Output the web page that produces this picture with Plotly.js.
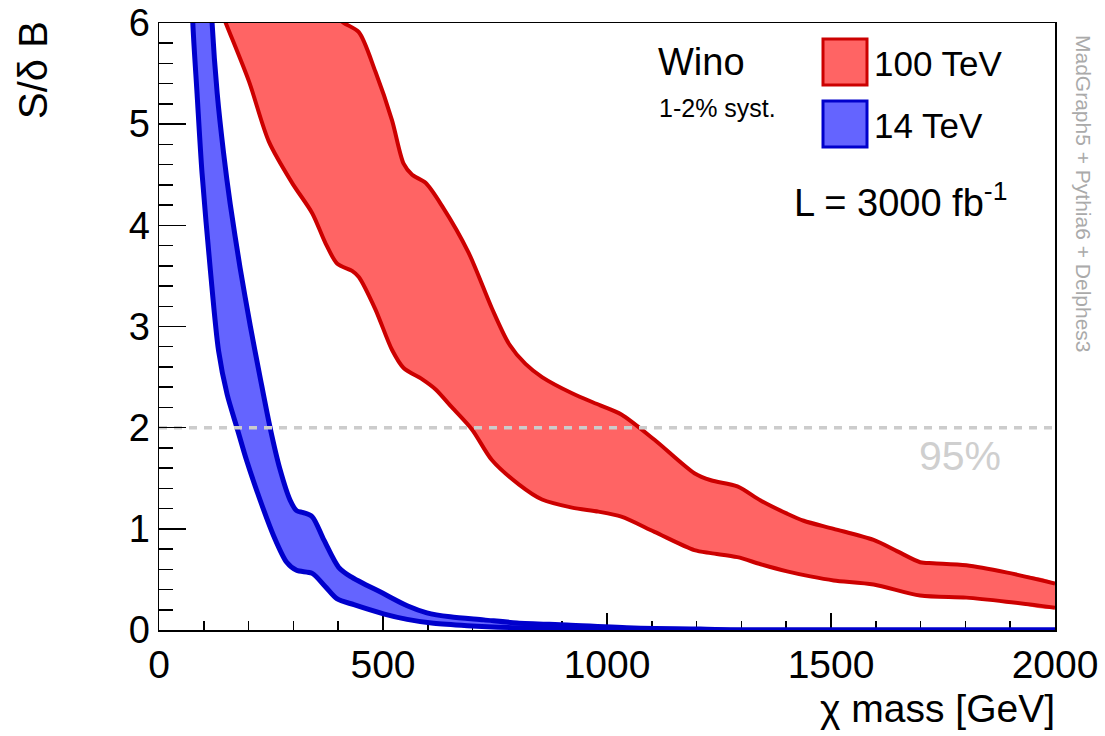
<!DOCTYPE html>
<html>
<head>
<meta charset="utf-8">
<script src="https://cdn.plot.ly/plotly-3.0.1.min.js"></script>
<style>html,body{margin:0;padding:0;background:#fff;}#chart{width:1105px;height:736px;}</style>
</head>
<body>
<div id="chart"></div>
<script>
// ---- Data ----
// 100 TeV band
const red100UpperX = [390, 413, 446, 483, 520, 546, 565, 595, 632, 691, 743, 781, 818, 855, 922, 985, 1032, 1106, 1195, 1232, 1291, 1343, 1402, 1439, 1506, 1595, 1647, 1699, 1728, 1802, 1891, 2000];
const red100UpperY = [6.08, 6.0, 5.91, 5.52, 5.04, 4.61, 4.50, 4.42, 4.19, 3.73, 3.18, 2.83, 2.63, 2.50, 2.34, 2.22, 2.13, 1.88, 1.55, 1.48, 1.42, 1.28, 1.15, 1.08, 1.00, 0.89, 0.78, 0.67, 0.66, 0.64, 0.57, 0.46];
const red100LowerX = [104, 149, 201, 245, 297, 342, 372, 398, 431, 446, 483, 520, 546, 587, 617, 654, 699, 743, 803, 855, 922, 981, 1032, 1106, 1195, 1232, 1291, 1343, 1402, 1454, 1506, 1595, 1699, 1802, 1891, 2000];
const red100LowerY = [6.5, 6.0, 5.42, 4.83, 4.42, 4.12, 3.82, 3.62, 3.55, 3.49, 3.17, 2.77, 2.59, 2.48, 2.38, 2.20, 1.98, 1.68, 1.44, 1.29, 1.21, 1.17, 1.12, 0.97, 0.79, 0.76, 0.72, 0.65, 0.58, 0.53, 0.49, 0.45, 0.34, 0.32, 0.28, 0.22];
// 14 TeV band
const blue14UpperX = [114, 118.5, 130, 144, 159, 181, 204, 226, 248, 270, 293, 307, 322, 342, 368, 401, 427, 501, 554, 598, 650, 725, 799, 911, 1060, 1208, 1300, 2000];
const blue14UpperY = [6.5, 6.0, 5.30, 4.72, 4.21, 3.58, 3.00, 2.49, 2.00, 1.59, 1.28, 1.18, 1.16, 1.12, 0.89, 0.62, 0.53, 0.36, 0.24, 0.17, 0.13, 0.10, 0.07, 0.05, 0.02, 0.01, 0.0, 0.0];
const blue14LowerX = [73, 75.5, 85, 96, 115, 133, 152, 174, 196, 226, 256, 285, 307, 342, 371, 397, 435, 501, 554, 613, 688, 799, 911, 1060, 1300, 2000];
const blue14LowerY = [6.5, 6.0, 5.30, 4.52, 3.54, 2.76, 2.33, 2.00, 1.67, 1.28, 0.93, 0.67, 0.59, 0.56, 0.43, 0.31, 0.25, 0.16, 0.105, 0.066, 0.043, 0.023, 0.013, 0.007, 0.0, 0.0];
// 95% exclusion level
const limitX = [0, 2000];
const limitY = [2, 2];
// Text
const legendLabels = ["100 TeV", "14 TeV"];
const xTitle = "\u03C7 mass [GeV]";
const yTitle = "S/\u03B4 B";

// ---- Styling ----
const FONT = "Liberation Sans, Arial, Helvetica, sans-serif";
const RED_FILL = "#ff6464", RED_LINE = "#cc0000";
const BLUE_FILL = "#6464ff", BLUE_LINE = "#0000cc";
const W = 1105, H = 736, L = 159, R = 1055, T = 23, B = 630;
const px = (x) => (x - L) / (R - L);
const py = (y) => (B - y) / (B - T);
const SM = 0.8;

function band(ux, uy, lx, ly, fill) {
  return {
    x: ux.concat(lx.slice().reverse()),
    y: uy.concat(ly.slice().reverse()),
    type: "scatter", mode: "lines", fill: "toself", fillcolor: fill,
    line: {width: 0, shape: "spline", smoothing: SM}, hoverinfo: "skip", showlegend: false
  };
}
function edge(x, y, color, w) {
  return {x: x, y: y, type: "scatter", mode: "lines",
    line: {color: color, width: w, shape: "spline", smoothing: SM}, hoverinfo: "skip", showlegend: false};
}

const traces = [
  band(red100UpperX, red100UpperY, red100LowerX, red100LowerY, RED_FILL),
  edge(red100UpperX, red100UpperY, RED_LINE, 4),
  edge(red100LowerX, red100LowerY, RED_LINE, 4),
  band(blue14UpperX, blue14UpperY, blue14LowerX, blue14LowerY, BLUE_FILL),
  edge(blue14UpperX, blue14UpperY, BLUE_LINE, 5),
  edge(blue14LowerX, blue14LowerY, BLUE_LINE, 5),
  {x: limitX, y: limitY, type: "scatter", mode: "lines",
   line: {color: "#cccccc", width: 3.5, dash: "8px,7px"}, hoverinfo: "skip", showlegend: false}
];

const axisCommon = {
  showgrid: false, zeroline: false, showline: true, linecolor: "#000", linewidth: 1.5,
  mirror: true, ticks: "inside", tickcolor: "#000", tickwidth: 1.5
};

const layout = {
  width: W, height: H,
  margin: {l: L, r: W - R, t: T, b: H - B, pad: 0},
  paper_bgcolor: "#fff", plot_bgcolor: "#fff",
  font: {family: FONT, color: "#000"},
  showlegend: false,
  xaxis: Object.assign({}, axisCommon, {
    range: [0, 2000], dtick: 500, tick0: 0, ticklen: 17,
    minor: {dtick: 100, ticklen: 9, ticks: "inside", tickcolor: "#000", tickwidth: 1.5},
    tickfont: {size: 39, family: FONT}, layer: "below traces"
  }),
  yaxis: Object.assign({}, axisCommon, {
    range: [0, 6], dtick: 1, tick0: 0, ticklen: 27,
    minor: {dtick: 0.2, ticklen: 14, ticks: "inside", tickcolor: "#000", tickwidth: 1.5},
    tickfont: {size: 38, family: FONT}
  }),
  shapes: [
    {type: "rect", xref: "paper", yref: "paper", x0: px(823), x1: px(867), y0: py(85), y1: py(39),
     fillcolor: RED_FILL, line: {color: RED_LINE, width: 3}},
    {type: "rect", xref: "paper", yref: "paper", x0: px(823), x1: px(867), y0: py(147), y1: py(101),
     fillcolor: BLUE_FILL, line: {color: BLUE_LINE, width: 3}}
  ],
  annotations: [
    {text: legendLabels[0], xref: "paper", yref: "paper", x: px(872), y: py(64), xanchor: "left", yanchor: "middle", showarrow: false, font: {size: 35}},
    {text: legendLabels[1], xref: "paper", yref: "paper", x: px(872), y: py(125), xanchor: "left", yanchor: "middle", showarrow: false, font: {size: 35}},
    {text: "Wino", xref: "paper", yref: "paper", x: px(656), y: py(62), xanchor: "left", yanchor: "middle", showarrow: false, font: {size: 38}},
    {text: "1-2% syst.", xref: "paper", yref: "paper", x: px(657), y: py(108), xanchor: "left", yanchor: "middle", showarrow: false, font: {size: 25}},
    {text: "L = 3000 fb<sup>-1</sup>", xref: "paper", yref: "paper", x: px(792), y: py(200), xanchor: "left", yanchor: "middle", showarrow: false, font: {size: 38}},
    {text: "95%", xref: "paper", yref: "paper", x: px(917), y: py(456), xanchor: "left", yanchor: "middle", showarrow: false, font: {size: 41, color: "#cfcfcf"}},
    {text: "MadGraph5 + Pythia6 + Delphes3", xref: "paper", yref: "paper", x: px(1083), y: py(194), xanchor: "center", yanchor: "middle", textangle: 90, showarrow: false, font: {size: 21, color: "#aaaaaa"}},
    {text: xTitle, xref: "paper", yref: "paper", x: px(1057), y: py(708), xanchor: "right", yanchor: "middle", showarrow: false, font: {size: 39}},
    {text: yTitle, xref: "paper", yref: "paper", x: px(33), y: py(70), xanchor: "center", yanchor: "middle", textangle: -90, showarrow: false, font: {size: 40}}
  ]
};

Plotly.newPlot("chart", traces, layout, {staticPlot: true, displayModeBar: false});
</script>
</body>
</html>
